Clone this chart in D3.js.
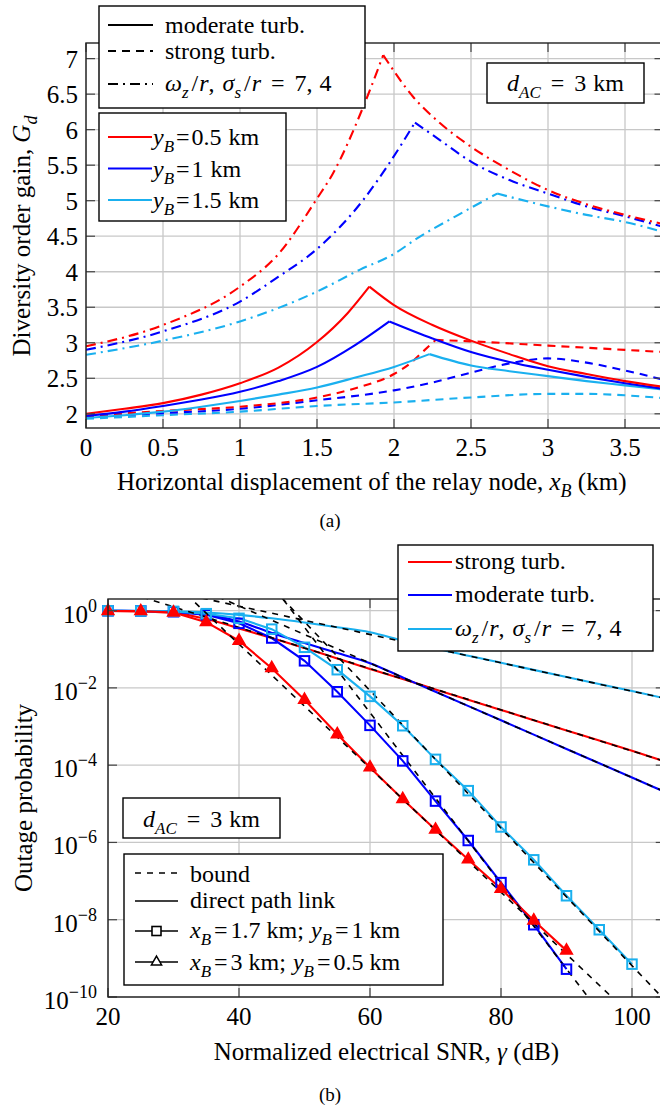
<!DOCTYPE html>
<html><head><meta charset="utf-8">
<script src="https://cdn.jsdelivr.net/npm/d3@7"></script>
<style>body{margin:0;background:#fff}</style>
</head><body><svg id="c" width="660" height="1108"></svg>
<script>
// ---------------- DATA: panel (a) ----------------
const xTicksA = [0, 0.5, 1, 1.5, 2, 2.5, 3, 3.5];
const xTickLabelsA = ['0', '0.5', '1', '1.5', '2', '2.5', '3', '3.5'];
const yTicksA = [2, 2.5, 3, 3.5, 4, 4.5, 5, 5.5, 6, 6.5, 7];
const yTickLabelsA = ['2', '2.5', '3', '3.5', '4', '4.5', '5', '5.5', '6', '6.5', '7'];
// moderate turbulence (solid) – [x_B, G_d], split at the peak
const modRedUp = [[0,2.00],[0.25,2.07],[0.5,2.15],[0.75,2.27],[1.0,2.43],[1.25,2.65],[1.5,3.01],[1.7,3.42],[1.84,3.79]];
const modRedDown = [[1.84,3.79],[2.0,3.53],[2.25,3.25],[2.5,3.03],[2.75,2.84],[3.0,2.67],[3.25,2.56],[3.5,2.46],[3.75,2.38]];
const modBlueUp = [[0,1.97],[0.25,2.03],[0.5,2.11],[0.75,2.20],[1.0,2.31],[1.25,2.46],[1.5,2.66],[1.75,2.97],[1.97,3.30]];
const modBlueDown = [[1.97,3.30],[2.25,3.06],[2.5,2.87],[2.75,2.73],[3.0,2.62],[3.25,2.52],[3.5,2.43],[3.75,2.35]];
const modCyanUp = [[0,1.94],[0.25,1.98],[0.5,2.03],[0.75,2.10],[1.0,2.18],[1.25,2.27],[1.5,2.37],[1.75,2.51],[2.0,2.66],[2.23,2.84]];
const modCyanDown = [[2.23,2.84],[2.5,2.68],[2.75,2.60],[3.0,2.53],[3.25,2.46],[3.5,2.40],[3.75,2.34]];
// strong turbulence (dashed)
const strRedUp = [[0,1.97],[0.5,2.04],[1.0,2.10],[1.5,2.23],[1.75,2.36],[2.0,2.56],[2.1,2.70],[2.2,2.90],[2.27,3.04]];
const strRedDown = [[2.27,3.04],[2.5,3.02],[3.0,2.96],[3.5,2.90],[3.75,2.87]];
const strBlue = [[0,1.96],[0.5,2.01],[1.0,2.07],[1.5,2.19],[2.0,2.33],[2.25,2.44],[2.5,2.58],[2.75,2.71],[3.0,2.78],[3.25,2.72],[3.5,2.61],[3.75,2.48]];
const strCyan = [[0,1.93],[0.5,1.98],[1.0,2.03],[1.5,2.11],[2.0,2.16],[2.5,2.23],[3.0,2.28],[3.25,2.28],[3.5,2.26],[3.75,2.22]];
// omega_z/r, sigma_s/r = 7,4 (dash-dot)
const wRedUp = [[0,2.95],[0.5,3.25],[1.0,3.79],[1.25,4.25],[1.5,5.03],[1.6,5.37],[1.8,6.32],[1.93,7.05]];
const wRedDown = [[1.93,7.05],[2.125,6.46],[2.3,6.09],[2.5,5.76],[2.75,5.43],[3.0,5.15],[3.25,4.95],[3.5,4.80],[3.75,4.67]];
const wBlueUp = [[0,2.90],[0.5,3.16],[1.0,3.58],[1.25,3.93],[1.5,4.32],[1.8,5.01],[1.97,5.53],[2.136,6.10]];
const wBlueDown = [[2.136,6.10],[2.3,5.85],[2.5,5.55],[2.75,5.29],[3.0,5.10],[3.25,4.92],[3.5,4.78],[3.75,4.63]];
const wCyanUp = [[0,2.83],[0.5,3.03],[1.0,3.30],[1.5,3.72],[1.78,4.03],[2.0,4.25],[2.15,4.47],[2.4,4.78],[2.67,5.10]];
const wCyanDown = [[2.67,5.10],[3.0,4.92],[3.25,4.80],[3.5,4.70],[3.75,4.56]];

// ---------------- DATA: panel (b) ----------------
const xTicksB = [20, 40, 60, 80, 100];
const yTickExpB = [0, -2, -4, -6, -8, -10];
const snrMk = [20,25,30,35,40,45,50,55,60,65,70,75,80,85,90];
const snrMkCyan = [20,25,30,35,40,45,50,55,60,65,70,75,80,85,90,95,100];
const triRedLog = [-0.01,-0.015,-0.05,-0.30,-0.78,-1.49,-2.31,-3.20,-4.06,-4.88,-5.67,-6.44,-7.20,-8.02,-8.80];
const sqBlueLog = [-0.005,-0.01,-0.03,-0.11,-0.33,-0.71,-1.30,-2.10,-2.97,-3.89,-4.93,-5.95,-7.04,-8.13,-9.28];
const sqCyanLog = [-0.005,-0.01,-0.02,-0.08,-0.20,-0.48,-0.95,-1.53,-2.22,-2.98,-3.85,-4.66,-5.60,-6.45,-7.38,-8.26,-9.15];
const snrDirect = [20,25,30,35,40,45,50,55,60,65,70,80,90,100,105];
const directRedLog = [-0.01,-0.02,-0.06,-0.22,-0.46,-0.71,-0.97,-1.24,-1.51,-1.77,-2.04,-2.57,-3.10,-3.63,-3.90];
const directBlueLog = [-0.005,-0.01,-0.03,-0.10,-0.28,-0.58,-0.84,-1.10,-1.36,-1.73,-2.10,-2.84,-3.58,-4.32,-4.69];
const directCyanLog = [-0.005,-0.01,-0.02,-0.05,-0.11,-0.20,-0.31,-0.43,-0.56,-0.78,-0.98,-1.35,-1.72,-2.08,-2.27];
const boundSnr = [20, 105];
const bndRedDirect = [0.63, -3.90];
const bndBlueDirect = [1.60, -4.69];
const bndCyanDirect = [0.85, -2.27];
const bndRedTri = [2.34, -11.30];
const bndBlueSq = [6.20, -12.59];
const bndCyanSq = [5.05, -10.08];

// ---------------- STYLE ----------------
const RED = '#ff0000', BLUE = '#0000ff', CYAN = '#1ab0ef';
const FONT = '"Liberation Serif"';
const FS = 25, LFS = 24;
const GRID = '#c8c8c8', AX = '#222', TICK = '#444';
const DASH = '8,6', DASHDOT = '10,5,2,5', BDASH = '6,6';

const svg = d3.select('#c');
const mctx = document.createElement('canvas').getContext('2d');
function measure(s, size, italic) {
  mctx.font = (italic ? 'italic ' : '') + size + 'px ' + FONT;
  return mctx.measureText(s).width;
}
// each part: 'text' | ['text', style] | {gap: px};  style: i, sub, subi, sup
function rich(x, y, parts, o = {}) {
  const size = o.size || FS;
  const items = parts.map(p => {
    if (p && p.gap !== undefined) return { gap: p.gap };
    const [s, st = ''] = Array.isArray(p) ? p : [p, ''];
    const sub = st.includes('sub'), sup = st.includes('sup');
    const fs = (sub || sup) ? Math.round(size * 0.7) : size;
    const it = st.includes('i');
    return { s, fs, it, dy: sub ? Math.round(size * 0.28) : sup ? -Math.round(size * 0.42) : 0, w: measure(s, fs, it) };
  });
  const total = d3.sum(items, d => d.gap !== undefined ? d.gap : d.w);
  let cx = o.anchor === 'middle' ? x - total / 2 : o.anchor === 'end' ? x - total : x;
  items.forEach(d => {
    if (d.gap !== undefined) { cx += d.gap; return; }
    const lead = d.s.length - d.s.replace(/^ +/, '').length;
    const leadW = lead ? measure(' '.repeat(lead), d.fs, d.it) : 0;
    const txt = d.s.trim();
    if (txt.length) {
      const t = svg.append('text').attr('x', cx + leadW).attr('y', y + d.dy)
        .attr('font-size', d.fs).attr('font-family', FONT)
        .text(txt);
      if (d.it) t.attr('font-style', 'italic');
      if (o.transform) t.attr('transform', o.transform);
    }
    cx += d.w;
  });
}

function frame(g, R, xs, ys, xf, yf) {
  xs.forEach(v => {
    const x = xf(v);
    g.append('line').attr('x1', x).attr('x2', x).attr('y1', R.t).attr('y2', R.b).attr('stroke', GRID).attr('stroke-width', 1.3);
  });
  ys.forEach(v => {
    const y = yf(v);
    g.append('line').attr('x1', R.l).attr('x2', R.r).attr('y1', y).attr('y2', y).attr('stroke', GRID).attr('stroke-width', 1.3);
  });
}
function ticksAndBox(g, R, xs, ys, xf, yf) {
  const L = 9;
  xs.forEach(v => {
    const x = xf(v);
    g.append('line').attr('x1', x).attr('x2', x).attr('y1', R.b).attr('y2', R.b - L).attr('stroke', TICK).attr('stroke-width', 1.2);
    g.append('line').attr('x1', x).attr('x2', x).attr('y1', R.t).attr('y2', R.t + L).attr('stroke', TICK).attr('stroke-width', 1.2);
  });
  ys.forEach(v => {
    const y = yf(v);
    g.append('line').attr('x1', R.l).attr('x2', R.l + L).attr('y1', y).attr('y2', y).attr('stroke', TICK).attr('stroke-width', 1.2);
    g.append('line').attr('x1', R.r - L).attr('x2', R.r).attr('y1', y).attr('y2', y).attr('stroke', TICK).attr('stroke-width', 1.2);
  });
  g.append('rect').attr('x', R.l).attr('y', R.t).attr('width', R.r - R.l).attr('height', R.b - R.t)
    .attr('fill', 'none').attr('stroke', AX).attr('stroke-width', 1.4);
}
function legendBox(g, x, y, w, h) {
  g.append('rect').attr('x', x).attr('y', y).attr('width', w).attr('height', h)
    .attr('fill', '#fff').attr('stroke', '#000').attr('stroke-width', 1.4);
}
function sample(g, x1, x2, y, color, dash, w = 2) {
  g.append('line').attr('x1', x1).attr('x2', x2).attr('y1', y).attr('y2', y)
    .attr('stroke', color).attr('stroke-width', w).attr('stroke-dasharray', dash || null);
}
const omegaParts = [['ω', 'i'], ['z', 'subi'], { gap: 3 }, '/', { gap: 1 }, ['r', 'i'], ',', { gap: 8 }, ['σ', 'i'], ['s', 'subi'], { gap: 3 }, '/', { gap: 1 }, ['r', 'i'], { gap: 10 }, '=', { gap: 10 }, '7,', { gap: 7 }, '4'];
const dacParts = [['d', 'i'], ['AC', 'subi'], { gap: 10 }, '=', { gap: 10 }, '3', { gap: 7 }, 'km'];
const yBParts = v => [['y', 'i'], ['B', 'subi'], { gap: 2 }, '=', { gap: 2 }, v, { gap: 7 }, 'km'];

// ================= PANEL (a) =================
const A = { l: 86, r: 663.5, t: 43, b: 428 };
const xA = d3.scaleLinear().domain([0, 3.75]).range([A.l, A.r]);
const yA = d3.scaleLinear().domain([1.8, 7.22]).range([A.b, A.t]);
const gA = svg.append('g');
svg.append('clipPath').attr('id', 'clipA').append('rect').attr('x', A.l).attr('y', A.t).attr('width', A.r - A.l).attr('height', A.b - A.t);
frame(gA, A, xTicksA, yTicksA, xA, yA);

const lineA = d3.line().x(d => xA(d[0])).y(d => yA(d[1])).curve(d3.curveMonotoneX);
const curvesA = [
  [wCyanUp, CYAN, DASHDOT], [wCyanDown, CYAN, DASHDOT],
  [wBlueUp, BLUE, DASHDOT], [wBlueDown, BLUE, DASHDOT],
  [wRedUp, RED, DASHDOT], [wRedDown, RED, DASHDOT],
  [strCyan, CYAN, DASH], [strBlue, BLUE, DASH],
  [strRedUp, RED, DASH], [strRedDown, RED, DASH],
  [modCyanUp, CYAN, null], [modCyanDown, CYAN, null],
  [modBlueUp, BLUE, null], [modBlueDown, BLUE, null],
  [modRedUp, RED, null], [modRedDown, RED, null]
];
const pA = gA.append('g').attr('clip-path', 'url(#clipA)');
curvesA.forEach(([d, c, dash]) => {
  pA.append('path').attr('d', lineA(d)).attr('fill', 'none').attr('stroke', c)
    .attr('stroke-width', 2.1).attr('stroke-dasharray', dash).attr('stroke-linejoin', 'miter');
});
ticksAndBox(gA, A, xTicksA, yTicksA, xA, yA);
legendBox(gA, 99, 6, 266, 102);
sample(gA, 108, 153, 25, '#000', null);
sample(gA, 108, 153, 51, '#000', DASH);
sample(gA, 108, 153, 84, '#000', DASHDOT);
legendBox(gA, 99, 113, 187, 108);
const yBLegend = [[RED, '0.5'], [BLUE, '1'], [CYAN, '1.5']];
yBLegend.forEach(([c], i) => sample(gA, 108, 152, 137 + i * 31.5, c, null));
legendBox(gA, 487, 63, 157, 40);

// ================= PANEL (b) =================
const B = { l: 108, r: 664.75, t: 599, b: 997 };
const xB = d3.scaleLinear().domain([20, 105]).range([B.l, B.r]);
const yB = d3.scaleLog().domain([1e-10, Math.pow(10, 0.3)]).range([B.b, B.t]);
const yBe = e => yB(Math.pow(10, e));
const gB = svg.append('g');
svg.append('clipPath').attr('id', 'clipB').append('rect').attr('x', B.l).attr('y', B.t).attr('width', B.r - B.l).attr('height', B.b - B.t);
frame(gB, B, xTicksB, yTickExpB, xB, yBe);
const pB = gB.append('g').attr('clip-path', 'url(#clipB)');

const lineB = (xs, ls, curve) => d3.line().x((d, i) => xB(xs[i])).y(d => yBe(d)).curve(curve || d3.curveLinear)(ls);

[[directRedLog, RED], [directBlueLog, BLUE], [directCyanLog, CYAN]].forEach(([ls, c]) => {
  pB.append('path').attr('d', lineB(snrDirect, ls, d3.curveMonotoneX)).attr('fill', 'none').attr('stroke', c).attr('stroke-width', 2.1);
});
const relay = [[snrMk, sqBlueLog, BLUE, 'sq'], [snrMkCyan, sqCyanLog, CYAN, 'sq'], [snrMk, triRedLog, RED, 'tri']];
relay.forEach(([xs, ls, c]) => {
  pB.append('path').attr('d', lineB(xs, ls)).attr('fill', 'none').attr('stroke', c).attr('stroke-width', 2.1);
});
[bndRedDirect, bndBlueDirect, bndCyanDirect, bndRedTri, bndBlueSq, bndCyanSq].forEach(ls => {
  pB.append('path').attr('d', lineB(boundSnr, ls)).attr('fill', 'none').attr('stroke', '#000')
    .attr('stroke-width', 1.6).attr('stroke-dasharray', BDASH);
});
relay.forEach(([xs, ls, c, m]) => {
  ls.forEach((v, i) => {
    const x = xB(xs[i]), y = yBe(v);
    if (m === 'sq') {
      gB.append('rect').attr('x', x - 4.75).attr('y', y - 4.75).attr('width', 9.5).attr('height', 9.5)
        .attr('fill', 'none').attr('stroke', c).attr('stroke-width', 2);
    } else {
      gB.append('path').attr('d', d3.symbol(d3.symbolTriangle, 60)()).attr('transform', `translate(${x},${y})`)
        .attr('fill', c).attr('stroke', c).attr('stroke-width', 1.5);
    }
  });
});
ticksAndBox(gB, B, xTicksB, yTickExpB, xB, yBe);
legendBox(gB, 398, 545, 255, 106);
const turbLegend = [[RED, ['strong turb.'], 562], [BLUE, ['moderate turb.'], 595], [CYAN, omegaParts, 629]];
turbLegend.forEach(([c, , y]) => sample(gB, 408, 452, y, c, null));
legendBox(gB, 123, 798, 157, 40);
legendBox(gB, 124, 854, 319, 131);
sample(gB, 135, 178, 873, '#000', BDASH, 1.6);
sample(gB, 135, 178, 901, '#000', null, 1.6);
sample(gB, 135, 178, 931, '#000', null, 1.6);
gB.append('rect').attr('x', 152).attr('y', 926.5).attr('width', 9).attr('height', 9).attr('fill', '#fff').attr('stroke', '#000').attr('stroke-width', 1.6);
sample(gB, 135, 178, 962, '#000', null, 1.6);
gB.append('path').attr('d', d3.symbol(d3.symbolTriangle, 45)()).attr('transform', 'translate(156.5,962)').attr('fill', '#fff').attr('stroke', '#000').attr('stroke-width', 1.5);

// ================= TEXTS (root level) =================
xTicksA.forEach((v, i) => rich(xA(v), 456, [xTickLabelsA[i]], { anchor: 'middle' }));
yTicksA.forEach((v, i) => rich(78, yA(v) + 9, [yTickLabelsA[i]], { anchor: 'end' }));
rich((A.l + A.r) / 2 - 3, 490, ['Horizontal displacement of the relay node, ', ['x', 'i'], ['B', 'subi'], ' (km)'], { anchor: 'middle' });
rich(0, 0, ['Diversity order gain, ', ['G', 'i'], ['d', 'subi']], { anchor: 'middle', transform: 'translate(30,236) rotate(-90)' });
rich(165, 33, ['moderate turb.'], { size: LFS });
rich(165, 59, ['strong turb.'], { size: LFS });
rich(165, 91, omegaParts, { size: LFS });
yBLegend.forEach(([, v], i) => rich(153, 137 + i * 31.5 + 8, yBParts(v), { size: LFS }));
rich(565.5, 91, dacParts, { anchor: 'middle', size: LFS });
rich(330, 527, ['(a)'], { anchor: 'middle', size: 19 });

xTicksB.forEach(v => rich(xB(v), 1025, [String(v)], { anchor: 'middle' }));
yTickExpB.forEach(e => rich(97, yBe(e) + 12, ['10', [e === 0 ? '0' : '−' + (-e), 'sup']], { anchor: 'end' }));
rich((B.l + B.r) / 2, 1060, ['Normalized electrical SNR, ', ['γ', 'i'], ' (dB)'], { anchor: 'middle' });
rich(0, 0, ['Outage probability'], { anchor: 'middle', transform: 'translate(32,798) rotate(-90)' });
turbLegend.forEach(([, parts, y]) => rich(455, y + 7, parts, { size: LFS }));
rich(201.5, 827, dacParts, { anchor: 'middle', size: LFS });
rich(190, 882, ['bound'], { size: LFS });
rich(190, 908, ['direct path link'], { size: LFS });
rich(190, 938, [['x', 'i'], ['B', 'subi'], { gap: 3 }, '=', { gap: 3 }, '1.7', { gap: 6 }, 'km;', { gap: 7 }, ['y', 'i'], ['B', 'subi'], { gap: 3 }, '=', { gap: 3 }, '1', { gap: 6 }, 'km'], { size: LFS });
rich(190, 970, [['x', 'i'], ['B', 'subi'], { gap: 3 }, '=', { gap: 3 }, '3', { gap: 6 }, 'km;', { gap: 7 }, ['y', 'i'], ['B', 'subi'], { gap: 3 }, '=', { gap: 3 }, '0.5', { gap: 6 }, 'km'], { size: LFS });
rich(330, 1101, ['(b)'], { anchor: 'middle', size: 19 });
</script></body></html>
